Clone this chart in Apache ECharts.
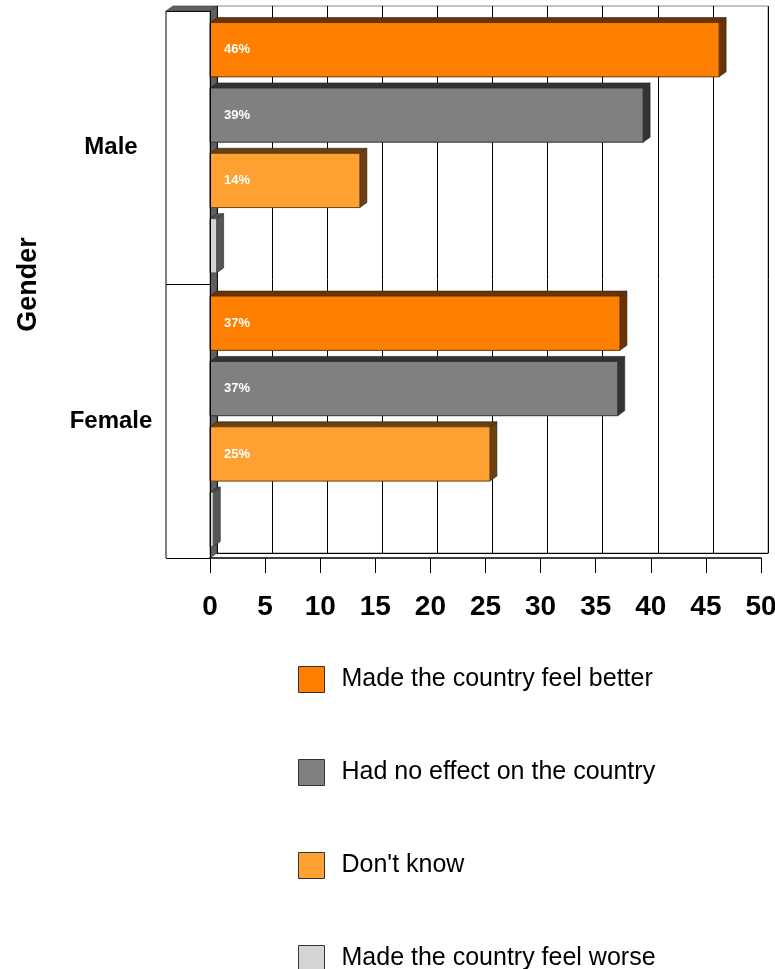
<!DOCTYPE html>
<html><head><meta charset="utf-8">
<script src="https://cdn.jsdelivr.net/npm/echarts@6/dist/echarts.min.js"></script>
<style>html,body{margin:0;padding:0;background:#fff}#c{width:775px;height:969px}</style>
</head><body><div id="c"></div>
<script>
var categories = ['Male', 'Female'];
var seriesNames = ['Made the country feel better', 'Had no effect on the country', "Don't know", 'Made the country feel worse'];
var better = [46.2, 37.2];
var noEffect = [39.3, 37.0];
var dontKnow = [13.6, 25.4];
var worse = [0.6, 0.3];
var xTicks = [0, 5, 10, 15, 20, 25, 30, 35, 40, 45, 50];

var faceColors = ['#FF8000', '#808080', '#FFA033', '#D4D4D4'];
var sideColors = ['#6B3300', '#333333', '#6E4010', '#555555'];
var values = [better, noEffect, dontKnow, worse];
var font = '"Liberation Sans", Arial, sans-serif';
var DX = 7, DY = 5;
var BAR_FRAC = 0.1985, STEP_FRAC = 0.239;

var chart = echarts.init(document.getElementById('c'));

function makeRender(i) {
  return function (params, api) {
    var cat = api.value(1);
    var base = api.coord([0, cat]);
    var end = api.coord([api.value(0), cat]);
    var band = api.size([0, 1])[1];
    var h = band * BAR_FRAC, step = band * STEP_FRAC;
    var total = 3 * step + h;
    var top = base[1] - total / 2 + i * step;
    var x = base[0], w = end[0] - base[0];
    var children = [
      { type: 'polygon', shape: { points: [[x, top], [x + DX, top - DY], [x + w + DX, top - DY], [x + w, top]] },
        style: { fill: sideColors[i], stroke: '#222', lineWidth: 0.6 } },
      { type: 'polygon', shape: { points: [[x + w, top], [x + w + DX, top - DY], [x + w + DX, top + h - DY], [x + w, top + h]] },
        style: { fill: sideColors[i], stroke: '#222', lineWidth: 0.6 } },
      { type: 'rect', shape: { x: x, y: top, width: w, height: h },
        style: { fill: faceColors[i], stroke: sideColors[i], lineWidth: 1 } }
    ];
    var v = api.value(0);
    if (v >= 1) {
      children.push({ type: 'text', style: { text: Math.round(v) + '%', x: x + 14, y: top + h / 2,
        verticalAlign: 'middle', fill: '#fff', fontFamily: font, fontSize: 13, fontWeight: 'bold' } });
    }
    return { type: 'group', children: children };
  };
}

var series = values.map(function (v, i) {
  return {
    name: seriesNames[i], type: 'custom', xAxisIndex: 0, yAxisIndex: 0,
    itemStyle: { color: faceColors[i] },
    encode: { x: 0, y: 1 },
    data: categories.map(function (c, k) { return [v[k], k]; }),
    renderItem: makeRender(i), z: 5
  };
});

chart.setOption({
  animation: false,
  backgroundColor: '#fff',
  grid: [
    { left: 210, right: 14, top: 11, bottom: 411, outerBoundsMode: 'none', containLabel: false },
    { left: 217, right: 7, top: 6, bottom: 416, outerBoundsMode: 'none', containLabel: false, show: true, borderColor: '#888', borderWidth: 1 }
  ],
  xAxis: [
    { type: 'value', gridIndex: 0, min: xTicks[0], max: xTicks[xTicks.length - 1], interval: 5,
      axisLine: { show: true, lineStyle: { color: '#000', width: 1.5 } },
      axisTick: { show: true, length: 15, lineStyle: { color: '#000' } },
      splitLine: { show: false },
      axisLabel: { margin: 35, color: '#000', fontFamily: font, fontSize: 28, fontWeight: 'bold' } },
    { type: 'value', gridIndex: 1, min: xTicks[0], max: xTicks[xTicks.length - 1], interval: 5,
      axisLine: { show: true, lineStyle: { color: '#000', width: 1 } },
      axisTick: { show: false }, axisLabel: { show: false },
      splitLine: { show: true, lineStyle: { color: '#000', width: 1 } } }
  ],
  yAxis: [
    { type: 'category', gridIndex: 0, data: categories, inverse: true,
      name: 'Gender', nameLocation: 'middle', nameRotate: 90, nameGap: 168,
      nameTextStyle: { color: '#000', fontFamily: font, fontSize: 27, fontWeight: 'bold' },
      axisLine: { show: true, lineStyle: { color: '#000', width: 1 } },
      axisTick: { show: true, length: 44, lineStyle: { color: '#000' } },
      axisLabel: { margin: 99, align: 'center', color: '#000', fontFamily: font, fontSize: 24, fontWeight: 'bold' },
      z: 6 },
    { type: 'category', gridIndex: 1, data: categories, inverse: true, show: false }
  ],
  legend: { orient: 'vertical', left: 298, top: 666, height: 330, padding: 0,
    itemWidth: 26, itemHeight: 26, itemGap: 66,
    icon: 'rect', data: seriesNames,
    itemStyle: { borderColor: '#333', borderWidth: 1 },
    textStyle: { color: '#000', fontFamily: font, fontSize: 25, lineHeight: 26, padding: [0, 0, 0, 12] } },
  graphic: [
    { type: 'line', shape: { x1: 166, y1: 11, x2: 166, y2: 558 }, style: { stroke: '#000', lineWidth: 1 }, z: 10 },
    { type: 'polygon', shape: { points: [[210, 11], [217, 6], [217, 553], [210, 558]] }, style: { fill: '#606060', stroke: '#333', lineWidth: 0.6 }, z: 1 },
    { type: 'polygon', shape: { points: [[166, 11], [173, 6], [217, 6], [210, 11]] }, style: { fill: '#606060', stroke: '#333', lineWidth: 0.6 }, z: 10 }
  ],
  series: series
});
</script></body></html>
